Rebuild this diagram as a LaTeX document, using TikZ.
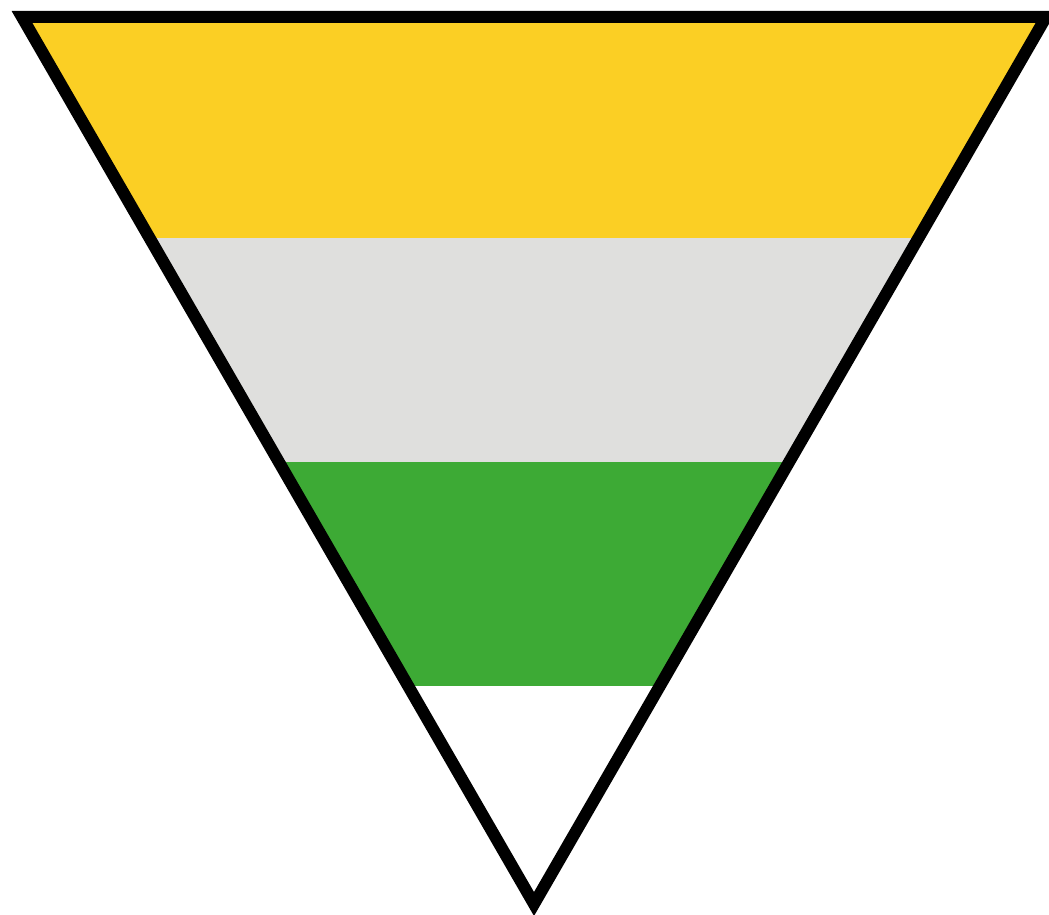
\documentclass[tikz,border=0pt]{standalone}
\definecolor{bandyellow}{RGB}{251,207,36}
\definecolor{bandgray}{RGB}{223,223,221}
\definecolor{bandgreen}{RGB}{61,170,53}
\tikzset{outline/.style={draw=black,line width=12pt,line join=miter}}
\begin{document}
\begin{tikzpicture}[x=1pt,y=-1pt]
\useasboundingbox (0,0) rectangle (1049,915);
\coordinate (L) at (22,17);
\coordinate (R) at (1046,17);
\coordinate (B) at (534,904);
\begin{scope}
\clip (L) -- (R) -- (B) -- cycle;
\fill[bandyellow] (0,0) rectangle (1049,238);
\fill[bandgray] (0,238) rectangle (1049,462);
\fill[bandgreen] (0,462) rectangle (1049,686);
\fill[white] (0,686) rectangle (1049,915);
\end{scope}
\draw[outline] (L) -- (R) -- (B) -- cycle;
\end{tikzpicture}
\end{document}
